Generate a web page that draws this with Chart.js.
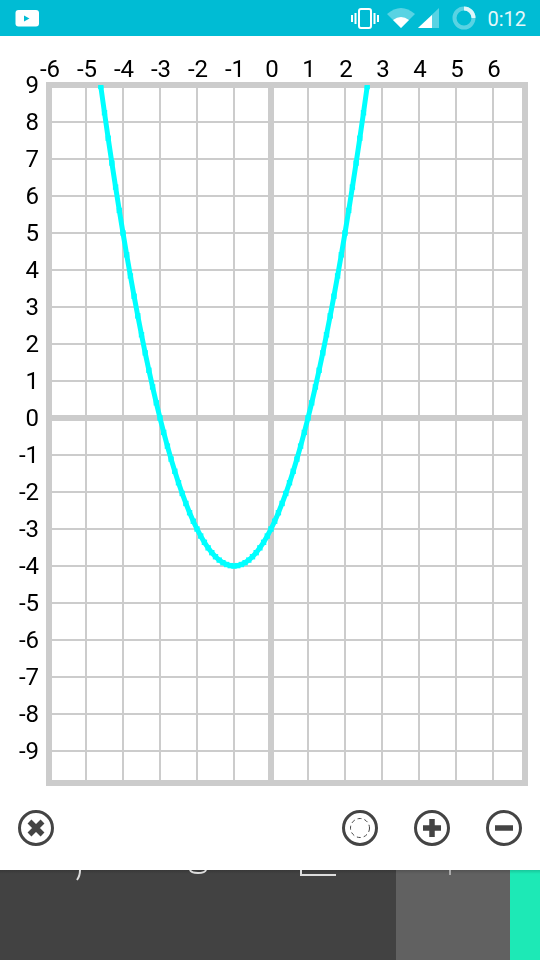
<!DOCTYPE html>
<html><head><meta charset="utf-8">
<script src="https://cdn.jsdelivr.net/npm/chart.js@4"></script>
<style>
html,body{margin:0;padding:0;background:#fff;width:540px;height:960px;overflow:hidden;font-family:Roboto,sans-serif}
#c{position:absolute;left:0;top:0}
.a{position:absolute}
</style></head><body>
<div class="a" style="left:0;top:0;width:540px;height:36px;background:#00BCD4"></div>
<svg class="a" style="left:0;top:0" width="540" height="36">
<rect x="15.500" y="10" width="23.500" height="16.500" rx="3" fill="#fff"/><path d="M24 15.500l5.500 3-5.500 3z" fill="#00BCD4"/>
<g fill="none" stroke="#fff" stroke-width="2"><rect x="359" y="9" width="12" height="19" rx="2"/></g>
<g fill="#fff"><rect x="351" y="15" width="2" height="7"/><rect x="354.500" y="13" width="2" height="11"/><rect x="373.500" y="13" width="2" height="11"/><rect x="377" y="15" width="2" height="7"/></g>
<path d="M387 14q14-12 28 0l-14 14z" fill="#fff" fill-opacity=".35"/><path d="M393 20q8-6 16 0l-8 8z" fill="#fff"/>
<path d="M418 28l21-20v20z" fill="#fff" fill-opacity=".35"/><path d="M418 28l14-13v13z" fill="#fff"/>
<circle cx="464" cy="18" r="9.500" fill="none" stroke="#fff" stroke-opacity=".35" stroke-width="4"/>
<path d="M464 8.500a9.500 9.500 0 0 1 9.500 9.500" fill="none" stroke="#fff" stroke-width="4" stroke-opacity=".8"/>
</svg>
<div class="a" style="left:487.500px;top:7px;color:#fff;font-size:20px;line-height:24px;opacity:.9">0:12</div>
<canvas id="c" width="540" height="960"></canvas>
<svg class="a" style="left:0;top:800px" width="540" height="60">
<g fill="none" stroke="#444" stroke-width="3">
<circle cx="36" cy="28" r="16.500"/><circle cx="360" cy="28" r="16.500"/><circle cx="432" cy="28" r="16.500"/><circle cx="504" cy="28" r="16.500"/>
<circle cx="360" cy="28" r="9.500" stroke-width="1" stroke-dasharray="4 3"/>
<path d="M29.500 21.500l13 13M42.500 21.500l-13 13" stroke-width="5.500"/>
<path d="M432 19v18M423 28h18" stroke-width="5.500"/>
<path d="M495 28h18" stroke-width="5.500"/>
</g></svg>
<div class="a" style="left:0;top:870px;width:396px;height:90px;background:#424242"></div>
<div class="a" style="left:396px;top:870px;width:114px;height:90px;background:#616161"></div>
<div class="a" style="left:510px;top:870px;width:30px;height:90px;background:#1DE9B6"></div>
<div class="a" style="left:0;top:870px;width:540px;height:4px;background:linear-gradient(rgba(0,0,0,.15),rgba(0,0,0,0))"></div>
<svg class="a" style="left:0;top:870px" width="540" height="20">
<g fill="none" stroke="#ddd" stroke-width="2">
<path d="M80 0q0 6-3 10"/><path d="M190 0q1 3 8 3t8-3"/><path d="M301 0v5h35"/><path d="M450 0v5" stroke="#aaa"/>
</g></svg>
<script>
const xTicks=[-6,-5,-4,-3,-2,-1,0,1,2,3,4,5,6];
const yTicks=[9,8,7,6,5,4,3,2,1,0,-1,-2,-3,-4,-5,-6,-7,-8,-9];
const curveX=[-4.6,-4.5,-4.4,-4.3,-4.2,-4.1,-4.0,-3.9,-3.8,-3.7,-3.6,-3.5,-3.4,-3.3,-3.2,-3.1,-3.0,-2.9,-2.8,-2.7,-2.6,-2.5,-2.4,-2.3,-2.2,-2.1,-2.0,-1.9,-1.8,-1.7,-1.6,-1.5,-1.4,-1.3,-1.2,-1.1,-1.0,-0.9,-0.8,-0.7,-0.6,-0.5,-0.4,-0.3,-0.2,-0.1,0,0.1,0.2,0.3,0.4,0.5,0.6,0.7,0.8,0.9,1.0,1.1,1.2,1.3,1.4,1.5,1.6,1.7,1.8,1.9,2.0,2.1,2.2,2.3,2.4,2.5,2.6];
const curveY=[8.96,8.25,7.56,6.89,6.24,5.61,5,4.41,3.84,3.29,2.76,2.25,1.76,1.29,0.84,0.41,0,-0.39,-0.76,-1.11,-1.44,-1.75,-2.04,-2.31,-2.56,-2.79,-3,-3.19,-3.36,-3.51,-3.64,-3.75,-3.84,-3.91,-3.96,-3.99,-4,-3.99,-3.96,-3.91,-3.84,-3.75,-3.64,-3.51,-3.36,-3.19,-3,-2.79,-2.56,-2.31,-2.04,-1.75,-1.44,-1.11,-0.76,-0.39,0,0.41,0.84,1.29,1.76,2.25,2.76,3.29,3.84,4.41,5,5.61,6.24,6.89,7.56,8.25,8.96];
const gridColor='#cccccc';
const frame={id:'frame',beforeDatasetsDraw(ch){const a=ch.chartArea,c=ch.ctx;c.save();c.strokeStyle=gridColor;c.lineWidth=6;c.strokeRect(a.left,a.top,a.right-a.left,a.bottom-a.top);c.restore();}};
const lw=ctx=>ctx.tick&&ctx.tick.value===0?6:2;
const font={family:'Roboto',size:24};
new Chart(document.getElementById('c'),{
type:'scatter',
data:{datasets:[{data:curveX.map((x,i)=>({x,y:curveY[i]})),showLine:true,borderColor:'#00FFFF',borderWidth:5,backgroundColor:'#00FFFF',pointStyle:'rect',pointRadius:3.8,pointHoverRadius:3.8,pointBorderWidth:0,clip:0}]},
options:{responsive:false,animation:false,
layout:{padding:{left:0,top:0,right:15,bottom:177}},
plugins:{legend:{display:false},tooltip:{enabled:false}},
scales:{
x:{type:'linear',position:'top',min:-6,max:6.865,
afterBuildTicks(s){s.ticks=xTicks.map(value=>({value}));},
afterFit(s){s.height=85;},
grid:{color:gridColor,lineWidth:lw,drawTicks:false},border:{display:false},
ticks:{color:'#000',font,padding:0,labelOffset:1,maxRotation:0,autoSkip:false,callback:v=>String(v)}},
y:{type:'linear',min:-9.865,max:9,
afterBuildTicks(s){s.ticks=yTicks.map(value=>({value}));},
afterFit(s){s.width=49;},
grid:{color:gridColor,lineWidth:lw,drawTicks:false},border:{display:false},
ticks:{color:'#000',font,padding:10,labelOffset:2,autoSkip:false,callback:v=>String(v)}}
}},
plugins:[frame]});
</script></body></html>
